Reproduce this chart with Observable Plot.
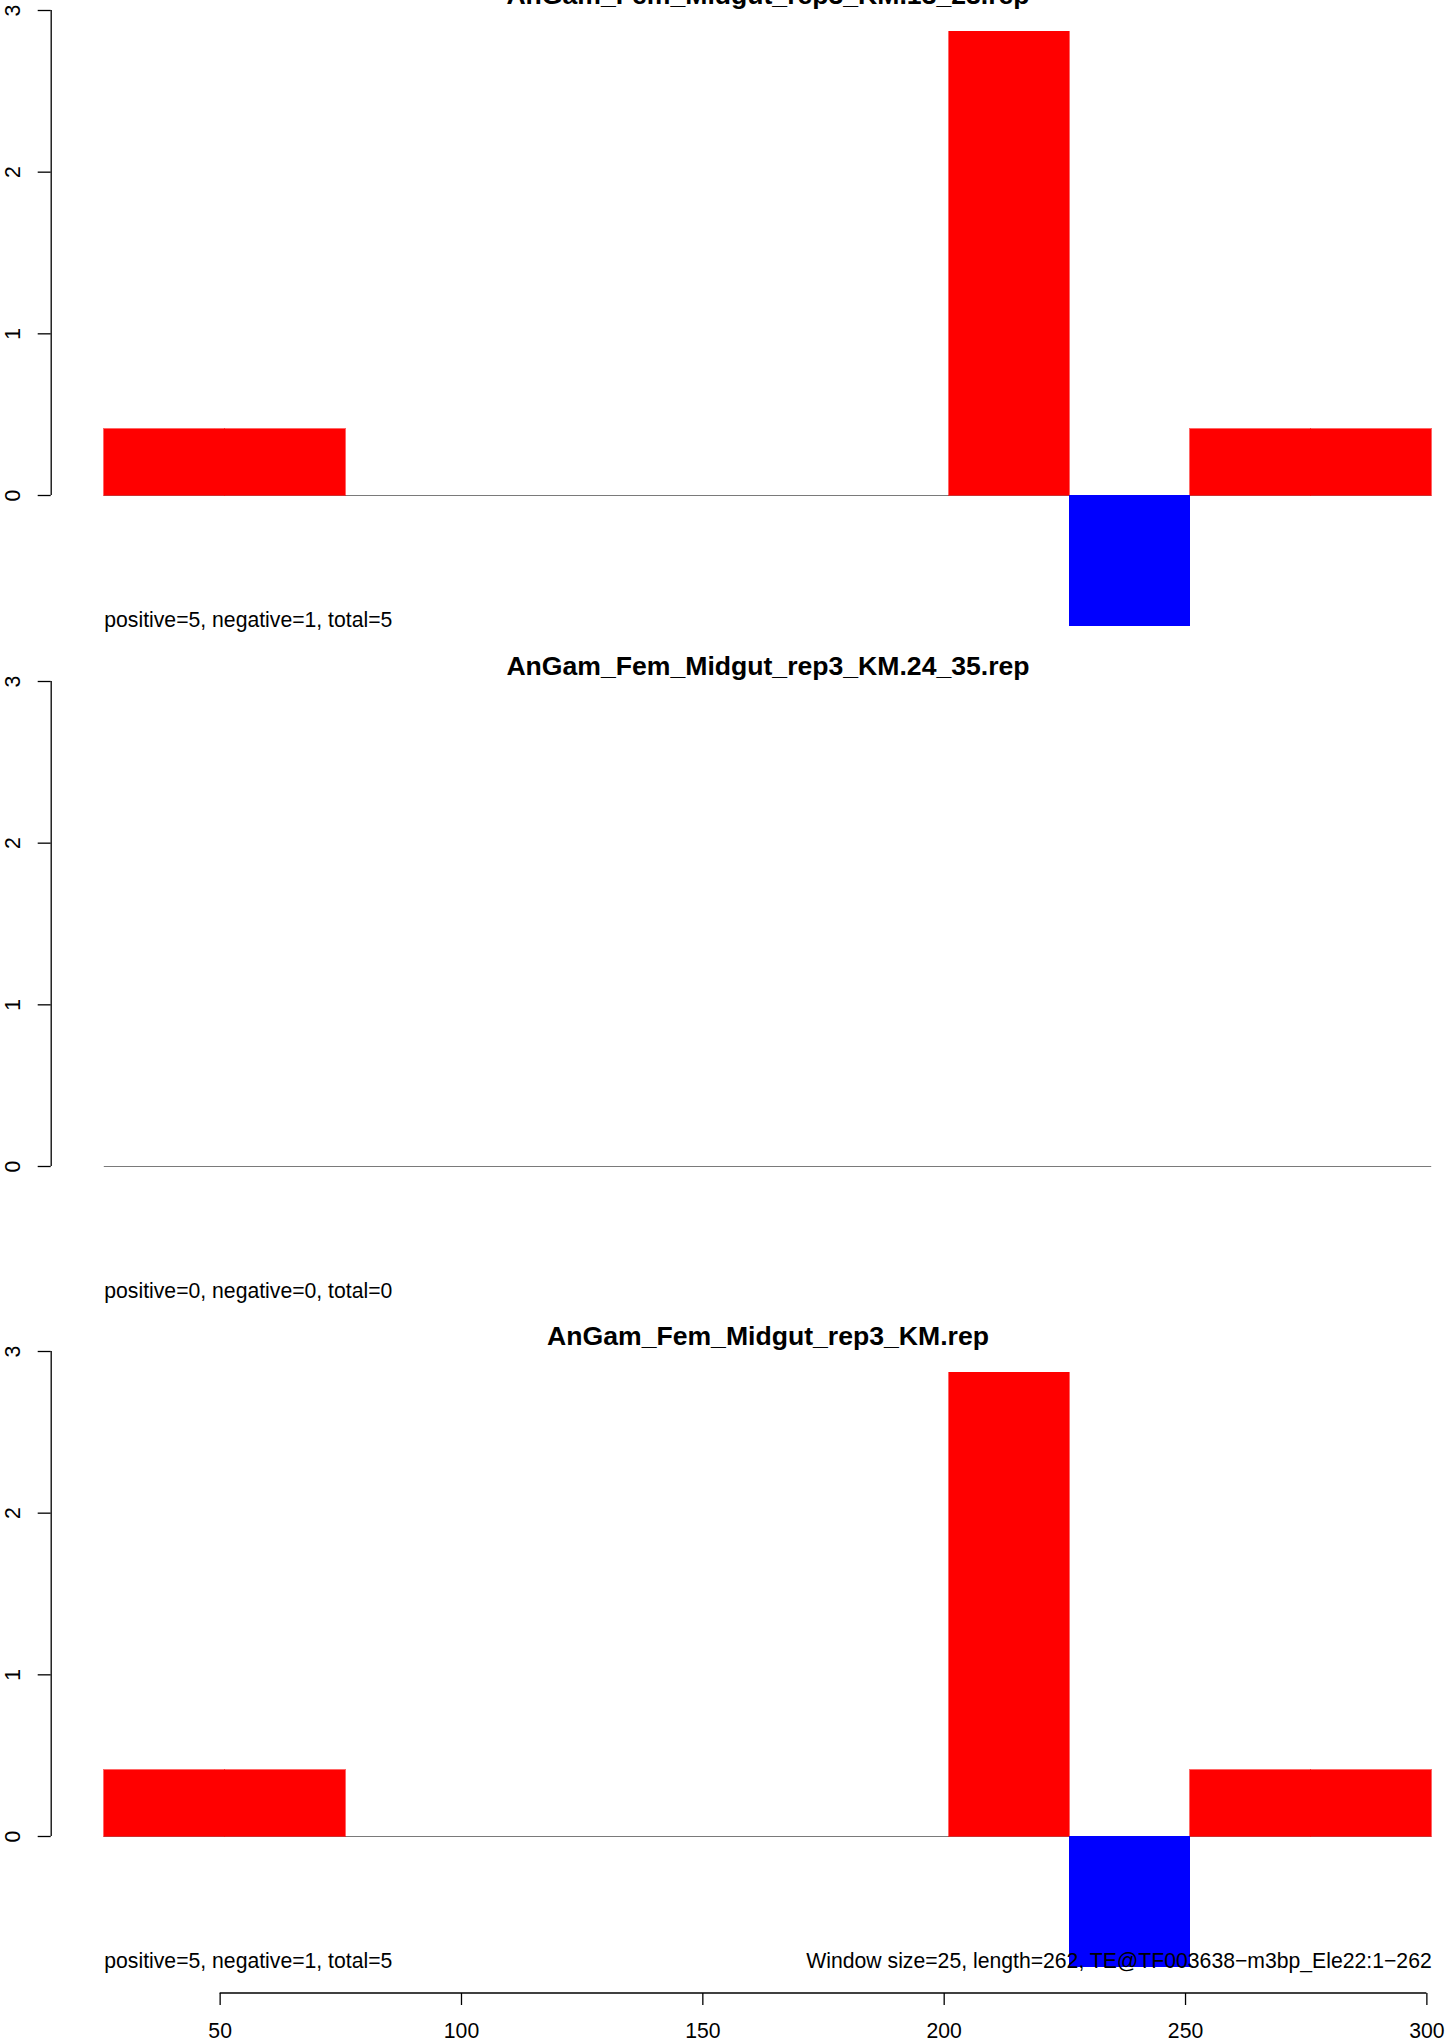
<!DOCTYPE html>
<html>
<head>
<meta charset="utf-8">
<script src="https://cdn.jsdelivr.net/npm/d3@7"></script>
<script src="https://cdn.jsdelivr.net/npm/@observablehq/plot@0.6"></script>
<style>
  html, body { margin: 0; padding: 0; background: #fff; overflow: hidden; }
  #root { position: relative; width: 1455px; height: 2043px; overflow: hidden; background: #fff; }
  #root svg { position: absolute; left: 0; overflow: visible; max-width: none; }
</style>
</head>
<body>
<div id="root"></div>
<script>
// ---- data ----
const windowStarts = [26, 51, 76, 101, 126, 151, 176, 201, 226, 251, 276];
const windowSize = 25;
const panelTitles = [
  "AnGam_Fem_Midgut_rep3_KM.13_23.rep",
  "AnGam_Fem_Midgut_rep3_KM.24_35.rep",
  "AnGam_Fem_Midgut_rep3_KM.rep"
];
const valuesKM13_23 = [0.41, 0.41, 0, 0, 0, 0, 0, 2.87, -0.81, 0.41, 0.41];
const valuesKM24_35 = [0, 0, 0, 0, 0, 0, 0, 0, 0, 0, 0];
const valuesKM      = [0.41, 0.41, 0, 0, 0, 0, 0, 2.87, -0.81, 0.41, 0.41];
const panelSummaries = [
  "positive=5, negative=1, total=5",
  "positive=0, negative=0, total=0",
  "positive=5, negative=1, total=5"
];
const footnote = "Window size=25, length=262, TE@TF003638\u2212m3bp_Ele22:1\u2212262";
const xTicks = [50, 100, 150, 200, 250, 300];
const yTicks = [0, 1, 2, 3];

// ---- layout ----
const W = 1455;
const panelHeight = 732;
const firstPanelTop = -29.7;
const panelStep = 670.25;
const xDomain = [15, 312];
const xRange = [50.7, 1484.3];
const yRange = [525, 40];       // pixel positions of y = 0 and y = 3
const marginTop = 40, marginBottom = 50;
const fontFamily = "'Liberation Sans', Arial, Helvetica, sans-serif";
const baseSize = 21.2;
const titleSize = 26.6;

const allValues = [valuesKM13_23, valuesKM24_35, valuesKM];
const root = document.getElementById("root");

allValues.forEach((vals, k) => {
  const rows = windowStarts.map((s, i) => ({start: s, end: s + windowSize, value: vals[i]}));
  const pos = rows.filter(d => d.value > 0);
  const neg = rows.filter(d => d.value < 0);
  const isLast = k === allValues.length - 1;
  const xFirst = windowStarts[0];
  const xLast = windowStarts[windowStarts.length - 1] + windowSize;

  const marks = [
    // zero baseline
    Plot.ruleY([0], {x1: xFirst, x2: xLast, stroke: "#7a7a7a", strokeWidth: 1}),
    Plot.rectY(pos, {x1: "start", x2: "end", y1: 0, y2: "value", fill: "#ff0000",
      stroke: "#ff0000", strokeWidth: 0.6, shapeRendering: "crispEdges"}),
    Plot.rectY(neg, {x1: "start", x2: "end", y1: 0, y2: "value", fill: "#0000ff",
      stroke: "#0000ff", strokeWidth: 0.6, shapeRendering: "crispEdges"}),
    // y axis line and ticks
    Plot.ruleX([xDomain[0]], {y1: yTicks[0], y2: yTicks[yTicks.length - 1], stroke: "#000", strokeWidth: 1.3}),
    Plot.ruleY(yTicks, {y: d => d, x1: xDomain[0], x2: xDomain[0], insetLeft: -13, stroke: "#000", strokeWidth: 1.3}),
    Plot.text(yTicks, {x: xDomain[0], y: d => d, text: d => String(d), rotate: -90, dx: -38,
      textAnchor: "middle", lineAnchor: "middle", fontSize: baseSize, fill: "#000"}),
    // title
    Plot.text([panelTitles[k]], {x: (xDomain[0] + xDomain[1]) / 2, frameAnchor: "top", dy: -15,
      lineAnchor: "middle", textAnchor: "middle", fontSize: titleSize, fontWeight: "bold", fill: "#000"}),
    // summary text
    Plot.text([panelSummaries[k]], {x: xFirst, frameAnchor: "bottom", dy: -32,
      lineAnchor: "middle", textAnchor: "start", fontSize: baseSize, fill: "#000"})
  ];

  if (isLast) {
    marks.push(
      Plot.text([footnote], {x: xLast, frameAnchor: "bottom", dy: -32,
        lineAnchor: "middle", textAnchor: "end", fontSize: baseSize, fill: "#000"}),
      Plot.axisX(xTicks, {anchor: "bottom", tickSize: 12, tickPadding: 17, fontSize: baseSize,
        stroke: "#000", strokeWidth: 1.3, fill: "#000"}),
      (index, scales, values, dims) => {
        const y = dims.height - dims.marginBottom;
        return d3.create("svg:line")
          .attr("x1", scales.x(xTicks[0])).attr("x2", scales.x(xTicks[xTicks.length - 1]))
          .attr("y1", y).attr("y2", y)
          .attr("stroke", "#000").attr("stroke-width", 1.3)
          .node();
      }
    );
  }

  const chart = Plot.plot({
    width: W,
    height: panelHeight,
    marginTop, marginBottom,
    marginLeft: xRange[0],
    marginRight: 0,
    x: {domain: xDomain, range: xRange, axis: isLast ? undefined : null},
    y: {domain: [0, 3], range: yRange, axis: null},
    style: {fontFamily, color: "#000", background: "transparent", overflow: "visible"},
    marks
  });
  chart.style.top = (firstPanelTop + k * panelStep) + "px";
  root.appendChild(chart);
});
</script>
</body>
</html>
